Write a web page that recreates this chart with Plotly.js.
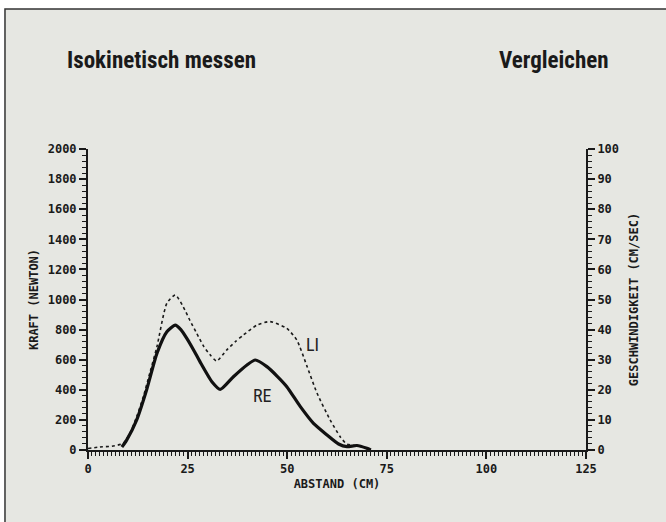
<!DOCTYPE html>
<html>
<head>
<meta charset="utf-8">
<script src="https://cdn.plot.ly/plotly-3.0.1.min.js"></script>
<style>
html,body{margin:0;padding:0;background:#ffffff;}
#chart{width:666px;height:522px;}
</style>
</head>
<body>
<div id="chart"></div>
<script>
// Abstand (cm) / Kraft (Newton)
const liX = [0, 3, 6, 8.9, 10.5, 12.2, 13.9, 15.6, 17.3, 19.8, 21.9, 23.9, 25.6, 27.3, 29.0, 30.7, 32.3, 34.8, 37.0, 39.0, 42.4, 45.7, 49.9, 52.4, 55.0, 57.5, 60.8, 63.3, 65.0, 67.5, 69.5, 70.9];
const liY = [10, 20, 25, 45, 110, 220, 355, 520, 686, 975, 1030, 952, 860, 775, 690, 631, 591, 664, 720, 764, 830, 853, 808, 731, 554, 377, 199, 88, 38, 30, 15, 0];
const reX = [8.5, 9.7, 12.2, 14.7, 17.3, 19.8, 21.9, 23.3, 24.8, 26.5, 28.1, 31.1, 33.2, 36.5, 39.9, 42.0, 44.9, 47.5, 49.9, 53.3, 56.6, 60.0, 62.9, 65.0, 67.5, 70.0, 71.0];
const reY = [20, 66, 199, 399, 642, 786, 830, 800, 742, 665, 587, 454, 403, 487, 565, 598, 554, 490, 421, 288, 177, 100, 40, 22, 30, 11, 0];
const speedX = [];
const speedY = [];
const xTicks = [0, 25, 50, 75, 100, 125];
const yTicks = [0, 200, 400, 600, 800, 1000, 1200, 1400, 1600, 1800, 2000];
const y2Ticks = [0, 10, 20, 30, 40, 50, 60, 70, 80, 90, 100];
const seriesLabels = ['LI', 'RE'];
const labelPosX = [56.3, 43.7];
const labelPosY = [698, 365];
const headings = ['Isokinetisch messen', 'Vergleichen'];

const mono = {family: 'DejaVu Sans Mono, monospace', size: 12, color: '#1a1a1a', weight: 'bold'};
const narrow = 'Liberation Sans Narrow, Roboto Condensed, Arial Narrow, Roboto, sans-serif';

const traces = [
  {x: liX, y: liY, mode: 'lines', name: seriesLabels[0], line: {color: '#1a1a1a', width: 1.6, dash: 'dot', shape: 'spline', smoothing: 0.6}, hoverinfo: 'skip'},
  {x: reX, y: reY, mode: 'lines', name: seriesLabels[1], line: {color: '#111', width: 3.2, shape: 'spline', smoothing: 0.6}, hoverinfo: 'skip'},
  {x: speedX, y: speedY, mode: 'lines', yaxis: 'y2', showlegend: false, hoverinfo: 'skip'}
];

const axisCommon = {
  showgrid: false, zeroline: false, showline: true, linecolor: '#1a1a1a', linewidth: 2,
  ticks: 'outside', ticklen: 7, tickwidth: 2, tickcolor: '#1a1a1a', tickfont: mono
};

const layout = {
  width: 666, height: 522,
  paper_bgcolor: '#ffffff', plot_bgcolor: 'rgba(0,0,0,0)',
  margin: {l: 88, r: 80, t: 149, b: 72},
  showlegend: false,
  xaxis: Object.assign({}, axisCommon, {
    range: [0, 125], tickvals: xTicks, ticktext: xTicks.map(String),
    minor: {dtick: 1, ticks: 'outside', ticklen: 4, tickwidth: 1, tickcolor: '#1a1a1a'},
    title: {text: 'ABSTAND (CM)', font: mono, standoff: 4}
  }),
  yaxis: Object.assign({}, axisCommon, {
    range: [0, 2000], tickvals: yTicks, ticktext: yTicks.map(String),
    minor: {dtick: 40, ticks: 'outside', ticklen: 4, tickwidth: 1, tickcolor: '#1a1a1a'},
    title: {text: 'KRAFT (NEWTON)', font: mono, standoff: 6}
  }),
  yaxis2: Object.assign({}, axisCommon, {
    overlaying: 'y', side: 'right', range: [0, 100], tickvals: y2Ticks, ticktext: y2Ticks.map(String),
    minor: {dtick: 2, ticks: 'outside', ticklen: 4, tickwidth: 1, tickcolor: '#1a1a1a'},
    title: {text: 'GESCHWINDIGKEIT (CM/SEC)', font: mono, standoff: 12}
  }),
  annotations: [
    {xref: 'x', yref: 'y', x: labelPosX[0], y: labelPosY[0], text: seriesLabels[0], showarrow: false,
     font: {family: narrow, size: 18, color: '#222'}},
    {xref: 'x', yref: 'y', x: labelPosX[1], y: labelPosY[1], text: seriesLabels[1], showarrow: false,
     font: {family: narrow, size: 18, color: '#222'}},
    {xref: 'paper', yref: 'paper', x: -0.046, y: 1.295, xanchor: 'left', yanchor: 'middle', text: headings[0], showarrow: false,
     font: {family: narrow, size: 23, color: '#1a1a1a', weight: 'bold'}},
    {xref: 'paper', yref: 'paper', x: 1.05, y: 1.295, xanchor: 'right', yanchor: 'middle', text: headings[1], showarrow: false,
     font: {family: narrow, size: 23, color: '#1a1a1a', weight: 'bold'}}
  ],
  shapes: [
    {type: 'rect', layer: 'below', xref: 'paper', yref: 'paper', x0: -0.1667, x1: 1.2, y0: 1.465, y1: -0.3,
     fillcolor: '#e6e7e2', line: {color: '#333', width: 1.5}}
  ]
};

Plotly.newPlot('chart', traces, layout, {staticPlot: true});
</script>
</body>
</html>
